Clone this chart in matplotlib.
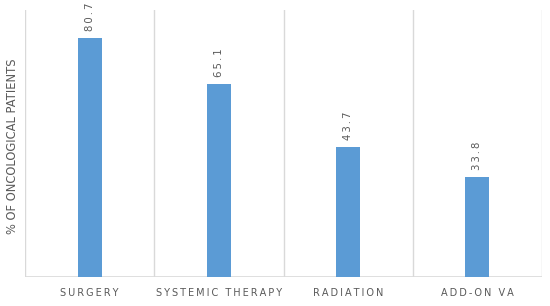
import matplotlib
matplotlib.use("Agg")
import matplotlib.pyplot as plt
import numpy as np

categories = ["SURGERY", "SYSTEMIC THERAPY", "RADIATION", "ADD-ON VA"]
values = [80.7, 65.1, 43.7, 33.8]
value_labels = ["80.7", "65.1", "43.7", "33.8"]

def spaced(s, sp="\u2009"):
    return sp.join(list(s))

fig = plt.figure(figsize=(5.5, 3.06), dpi=100)
ax = fig.add_axes([25/550, 29/306, 517/550, 267/306])
x = np.arange(len(categories))
ax.bar(x, values, width=0.186, color="#5B9BD5", zorder=3)
ax.set_xlim(-0.5, len(categories) - 0.5)
ax.set_ylim(0, 90)
for b in np.arange(-0.5, len(categories), 1.0):
    ax.axvline(b, color="#d9d9d9", lw=1, zorder=1)
for s in ax.spines.values():
    s.set_visible(False)
ax.axhline(0, color="#d9d9d9", lw=1.2, zorder=2)
ax.set_yticks([])
ax.set_xticks(x)
ax.set_xticklabels([spaced(c) for c in categories], fontsize=7, color="#595959")
ax.tick_params(axis="x", length=0, pad=8)
for xi, v, lab in zip(x, values, value_labels):
    ax.annotate(spaced(lab), (xi, v), xytext=(0, 5), textcoords="offset points",
                rotation=90, ha="center", va="bottom", fontsize=7.3, color="#595959")
fig.text(13/550, 1 - 146/306, "% OF ONCOLOGICAL PATIENTS", rotation=90, ha="center",
         va="center", fontsize=8.3, color="#595959")
fig.savefig("out.png", dpi=100, facecolor="white")
